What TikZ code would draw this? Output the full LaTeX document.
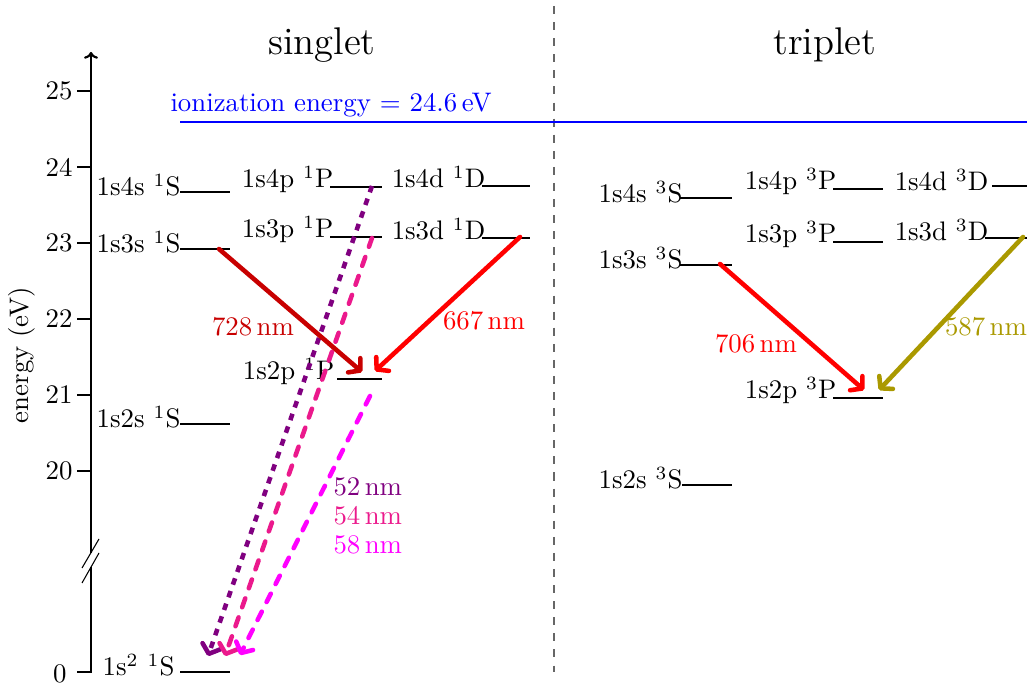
\documentclass[tikz,border=0pt]{standalone}
\usetikzlibrary{arrows.meta}
\definecolor{darkred}{RGB}{200,0,0}
\definecolor{gold}{RGB}{170,153,0}
\definecolor{viol}{RGB}{128,0,128}
\definecolor{pinkish}{RGB}{235,25,140}
\definecolor{magen}{RGB}{255,0,255}
\begin{document}
\begin{tikzpicture}[x=0.373pt,y=-0.373pt,
  lvl/.style={line width=0.8pt},
  lbl/.style={anchor=base east,inner sep=0pt},
  trans/.style={line width=1.7pt,line cap=round,line join=round,-{Straight Barb[length=3pt,width=7pt,line cap=round,line join=round]}},
  wl/.style={inner sep=0pt},
  tick/.style={line width=0.8pt}]
\useasboundingbox (0,0) rectangle (1027,687);
% titles
\node (ts) at (322,45) {\Large singlet};
\node (tt) at (825,45) {\Large triplet};
% separator
\coordinate (sepT) at (554,6);
\coordinate (sepB) at (554,672);
\draw[dashed,gray!80!black] (sepT) -- (sepB);
% axis
\coordinate (axTop) at (91,52);
\coordinate (axBrk) at (91,553);
\coordinate (axLow) at (91,567);
\coordinate (axZero) at (91,672);
\draw[line width=0.8pt,-{To[length=2.5pt]}] (axBrk) -- (axTop);
\draw[thin] (axLow) -- (axZero) -- (77,672);
\draw[thin] (82,568) -- (99,539);
\draw[thin] (82,583) -- (99,553);
\foreach \v/\yy in {25/91,24/167,23/243,22/319,21/395,20/471}{
  \draw[tick] (77,\yy) -- (91,\yy);
  \node[anchor=east,inner sep=0pt] (t\v) at (73,\yy) {\v};
}
\node[anchor=east,inner sep=0pt] (t0) at (67,674) {0};
\node[rotate=90] (elab) at (22,355) {energy (eV)};
% ionization
\coordinate (ionA) at (180,122);
\coordinate (ionB) at (1027,122);
\draw[blue,line width=0.8pt] (ionA) -- (ionB);
\node[blue,anchor=base west,inner sep=0pt] (ion) at (170,112) {ionization energy = 24.6\,eV};
% singlet levels
\draw[lvl] (180,192) -- (230,192); \node[lbl] (s4s) at (181,196) {1s4s $^1$S};
\draw[lvl] (180,249) -- (230,249); \node[lbl] (s3s) at (181,253) {1s3s $^1$S};
\draw[lvl] (180,424) -- (230,424); \node[lbl] (s2s) at (181,428) {1s2s $^1$S};
\draw[lvl] (180,672) -- (230,672); \node[lbl] (s1s) at (175,676) {1s$^2$ $^1$S};
\draw[lvl] (330,187) -- (382,187); \node[lbl] (s4p) at (334,188) {1s4p $^1$P};
\draw[lvl] (330,237) -- (382,237); \node[lbl] (s3p) at (334,238) {1s3p $^1$P};
\draw[lvl] (337,379) -- (382,379); \node[lbl] (s2p) at (335,380) {1s2p $^1$P};
\draw[lvl] (482,186) -- (530,186); \node[lbl] (s4d) at (486,188) {1s4d $^1$D};
\draw[lvl] (482,238) -- (530,238); \node[lbl] (s3d) at (486,240) {1s3d $^1$D};
% triplet levels
\draw[lvl] (680,198) -- (732,198); \node[lbl] (t4s) at (683,203) {1s4s $^3$S};
\draw[lvl] (680,265) -- (732,265); \node[lbl] (t3s) at (683,269) {1s3s $^3$S};
\draw[lvl] (682,485) -- (732,485); \node[lbl] (t2s) at (683,489) {1s2s $^3$S};
\draw[lvl] (833,189) -- (883,189); \node[lbl] (t4p) at (837,190) {1s4p $^3$P};
\draw[lvl] (833,242) -- (883,242); \node[lbl] (t3p) at (837,243) {1s3p $^3$P};
\draw[lvl] (833,398) -- (883,398); \node[lbl] (t2p) at (837,399) {1s2p $^3$P};
\draw[lvl] (992,186) -- (1027,186); \node[lbl] (t4d) at (989,191) {1s4d $^3$D};
\draw[lvl] (985,238) -- (1027,238); \node[lbl] (t3d) at (989,241) {1s3d $^3$D};
% transition endpoints
\coordinate (a1) at (219,249); \coordinate (b1) at (362,372);
\coordinate (a2) at (520,237); \coordinate (b2) at (375,371);
\coordinate (a3) at (720,264); \coordinate (b3) at (864,390);
\coordinate (a4) at (1023,237); \coordinate (b4) at (879,390);
\coordinate (a5) at (372,186); \coordinate (b5) at (208,656);
\coordinate (a6) at (372,238); \coordinate (b6) at (225,656);
\coordinate (a7) at (370,396); \coordinate (b7) at (240,655);
\draw[trans,viol,line cap=butt,dash pattern=on 2.5pt off 2.5pt] (a5) -- (b5);
\draw[trans,pinkish,dash pattern=on 3.5pt off 4pt] (a6) -- (b6);
\draw[trans,magen,dash pattern=on 3.5pt off 4pt] (a7) -- (b7);
\draw[trans,darkred] (a1) -- (b1);
\draw[trans,red] (a2) -- (b2);
\draw[trans,red] (a3) -- (b3);
\draw[trans,gold] (a4) -- (b4);
% wavelength labels
\node[wl,darkred] (w728) at (253,327) {728\,nm};
\node[wl,red] (w667) at (484,321) {667\,nm};
\node[wl,red] (w706) at (756,344) {706\,nm};
\node[wl,gold] (w587) at (986,327) {587\,nm};
\node[wl,viol,anchor=west] (w52) at (333,487) {52\,nm};
\node[wl,pinkish,anchor=west] (w54) at (333,516) {54\,nm};
\node[wl,magen,anchor=west] (w58) at (333,545) {58\,nm};
\end{tikzpicture}
\end{document}
